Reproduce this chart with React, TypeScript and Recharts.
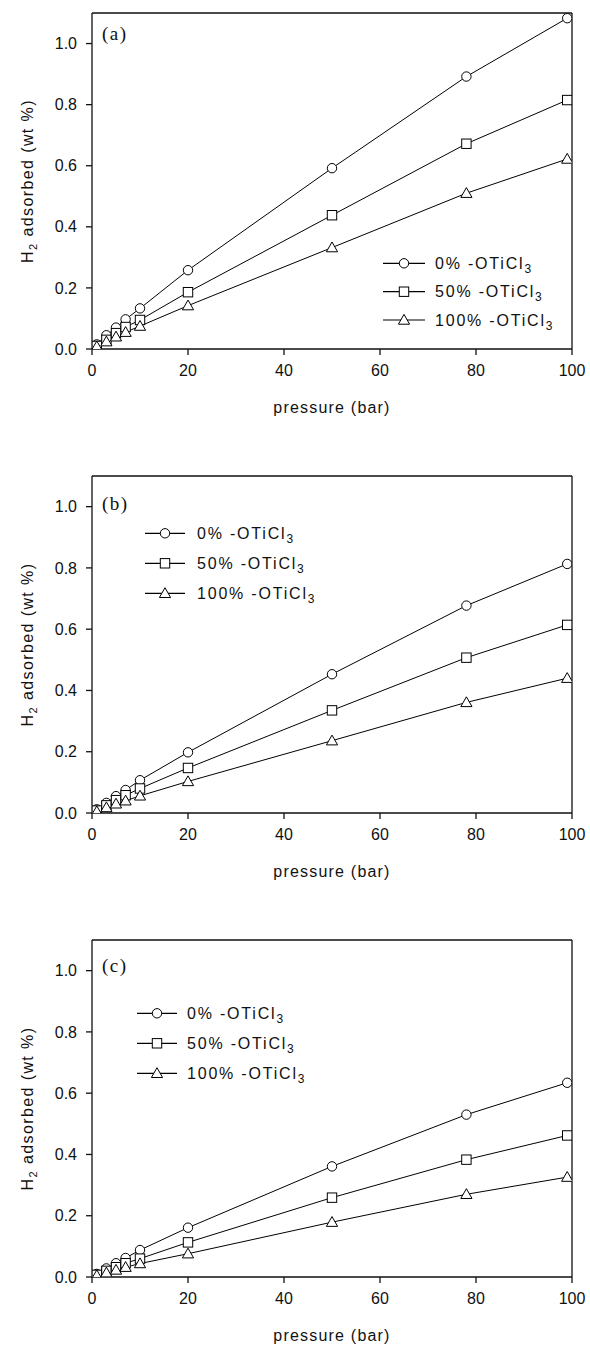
import React from 'react';
import { LineChart, Line, XAxis, YAxis, Legend, Label, ReferenceLine } from 'recharts';

// ---------- data ----------
const pressure = [1, 3, 5, 7, 10, 20, 50, 78, 99];
const seriesNames = ['0% -OTiCl3', '50% -OTiCl3', '100% -OTiCl3'];
const markerKinds = ['circle', 'square', 'triangle'];
const xTicks = [0, 20, 40, 60, 80, 100];
const yTicks = [0, 0.2, 0.4, 0.6, 0.8, 1.0];
const xMax = 100;
const yMax = 1.1;
const panelLabels = ['(a)', '(b)', '(c)'];

// panel (a)
const a0 = [0.015, 0.045, 0.07, 0.097, 0.133, 0.258, 0.592, 0.892, 1.083];
const a50 = [0.01, 0.03, 0.052, 0.072, 0.095, 0.186, 0.438, 0.672, 0.815];
const a100 = [0.008, 0.024, 0.04, 0.055, 0.075, 0.142, 0.332, 0.51, 0.622];
// panel (b)
const b0 = [0.012, 0.033, 0.055, 0.075, 0.107, 0.198, 0.453, 0.677, 0.813];
const b50 = [0.008, 0.025, 0.042, 0.058, 0.08, 0.147, 0.335, 0.507, 0.614];
const b100 = [0.005, 0.018, 0.03, 0.04, 0.056, 0.103, 0.236, 0.361, 0.44];
// panel (c)
const c0 = [0.01, 0.028, 0.045, 0.062, 0.088, 0.161, 0.361, 0.53, 0.634];
const c50 = [0.007, 0.02, 0.032, 0.045, 0.06, 0.113, 0.259, 0.383, 0.462];
const c100 = [0.005, 0.014, 0.023, 0.032, 0.044, 0.076, 0.179, 0.27, 0.326];

const build = (s0: number[], s1: number[], s2: number[]) =>
  pressure.map((p, i) => ({ p, s0: s0[i], s1: s1[i], s2: s2[i] }));

const INK = '#111';
const SANS = '"Liberation Sans", Arial, sans-serif';
const SERIF = '"Liberation Serif", "Times New Roman", serif';

function marker(kind: string, cx: number, cy: number, key?: any) {
  const r = 4.7;
  if (kind === 'circle')
    return <circle key={key} cx={cx} cy={cy} r={r} fill="#fff" stroke="#000" strokeWidth={1} />;
  if (kind === 'square')
    return <rect key={key} x={cx - r} y={cy - r} width={2 * r} height={2 * r} fill="#fff" stroke="#000" strokeWidth={1} />;
  const t = 5.6;
  return (
    <polygon
      key={key}
      points={`${cx},${cy - t} ${cx + t},${cy + t * 0.75} ${cx - t},${cy + t * 0.75}`}
      fill="#fff"
      stroke="#000"
      strokeWidth={1}
    />
  );
}

type LegendCfg = { lineX0: number; lineX1: number; textX: number; rowY: number[] };

type PanelProps = {
  data: any[];
  top: number;
  height: number;
  marginTop: number;
  xAxisHeight: number;
  label: string;
  labelDy: number;
  legend: LegendCfg;
};

function Panel({ data, top, height, marginTop, xAxisHeight, label, labelDy, legend }: PanelProps) {
  const axisStyle = { stroke: INK, strokeWidth: 1.3 };
  const tickStyle = { fontSize: 16, fill: INK, fontFamily: SANS };
  return (
    <div style={{ position: 'absolute', left: 0, top, width: 590, height }}>
      <LineChart width={590} height={height} data={data} margin={{ top: marginTop, right: 18, bottom: 0, left: 0 }}>
        <XAxis
          dataKey="p"
          type="number"
          domain={[0, xMax]}
          ticks={xTicks}
          height={xAxisHeight}
          tickSize={6}
          tickMargin={10}
          axisLine={axisStyle}
          tickLine={axisStyle}
          tick={tickStyle}
          allowDataOverflow
        >
          <Label
            content={(props: any) => {
              const vb = props.viewBox || {};
              return (
                <text
                  x={vb.x + vb.width / 2}
                  y={vb.y + 64}
                  textAnchor="middle"
                  fontSize={16}
                  fill={INK}
                  fontFamily={SANS}
                  letterSpacing={1.2}
                >
                  pressure (bar)
                </text>
              );
            }}
          />
        </XAxis>
        <YAxis
          type="number"
          domain={[0, yMax]}
          ticks={yTicks}
          tickFormatter={(v: number) => v.toFixed(1)}
          width={92}
          tickSize={6}
          tickMargin={9}
          axisLine={axisStyle}
          tickLine={axisStyle}
          tick={tickStyle}
          allowDataOverflow
        >
          <Label
            content={(props: any) => {
              const vb = props.viewBox || {};
              const cy = vb.y + vb.height / 2;
              const lx = 25;
              return (
                <g>
                  <text
                    transform={`rotate(-90, ${lx}, ${cy})`}
                    x={lx}
                    y={cy + 8}
                    textAnchor="middle"
                    fontSize={16}
                    fill={INK}
                    fontFamily={SANS}
                    letterSpacing={1.4}
                  >
                    H
                    <tspan fontSize={11} dy={4}>2</tspan>
                    <tspan dy={-4}> adsorbed (wt %)</tspan>
                  </text>
                  <text x={102} y={vb.y + labelDy} fontSize={19} fill={INK} fontFamily={SERIF} letterSpacing={1.5}>
                    {label}
                  </text>
                </g>
              );
            }}
          />
        </YAxis>
        <ReferenceLine y={yMax} stroke={INK} strokeWidth={1.3} ifOverflow="visible" />
        <ReferenceLine x={xMax} stroke={INK} strokeWidth={1.3} ifOverflow="visible" />
        {['s0', 's1', 's2'].map((k, si) => (
          <Line
            key={k}
            dataKey={k}
            name={seriesNames[si]}
            type="linear"
            stroke="#000"
            strokeWidth={1}
            isAnimationActive={false}
            dot={(p: any) => marker(markerKinds[si], p.cx, p.cy, `${k}-${p.index}`)}
            activeDot={false}
          />
        ))}
        <Legend
          layout="vertical"
          align="center"
          verticalAlign="middle"
          wrapperStyle={{ left: 0, top: 0, pointerEvents: 'none' }}
          content={() => (
            <svg width={590} height={height} style={{ display: 'block' }}>
              {seriesNames.map((name, i) => {
                const y = legend.rowY[i];
                const main = name.slice(0, -1);
                const sub = name.slice(-1);
                return (
                  <g key={name}>
                    <line x1={legend.lineX0} x2={legend.lineX1} y1={y} y2={y} stroke="#000" strokeWidth={1.2} />
                    {marker(markerKinds[i], (legend.lineX0 + legend.lineX1) / 2, y)}
                    <text x={legend.textX} y={y + 5.7} fontSize={16} fill={INK} fontFamily={SANS} letterSpacing={1.8}>
                      {main}
                      <tspan fontSize={12} dy={4}>{sub}</tspan>
                    </text>
                  </g>
                );
              })}
            </svg>
          )}
        />
      </LineChart>
    </div>
  );
}

export default function App() {
  return (
    <div style={{ position: 'absolute', left: 0, top: 0, width: 590, height: 1347, background: '#fff' }}>
      <Panel
        data={build(a0, a50, a100)}
        top={0}
        height={440}
        marginTop={13}
        xAxisHeight={91}
        label={panelLabels[0]}
        labelDy={27}
        legend={{ lineX0: 383, lineX1: 425, textX: 435, rowY: [263.3, 291.7, 320] }}
      />
      <Panel
        data={build(b0, b50, b100)}
        top={440}
        height={440}
        marginTop={36}
        xAxisHeight={67}
        label={panelLabels[1]}
        labelDy={34}
        legend={{ lineX0: 145, lineX1: 185, textX: 197, rowY: [93.3, 123.3, 153.3] }}
      />
      <Panel
        data={build(c0, c50, c100)}
        top={880}
        height={467}
        marginTop={60}
        xAxisHeight={70}
        label={panelLabels[2]}
        labelDy={32}
        legend={{ lineX0: 137, lineX1: 177, textX: 187, rowY: [133.3, 163.3, 193.3] }}
      />
    </div>
  );
}
